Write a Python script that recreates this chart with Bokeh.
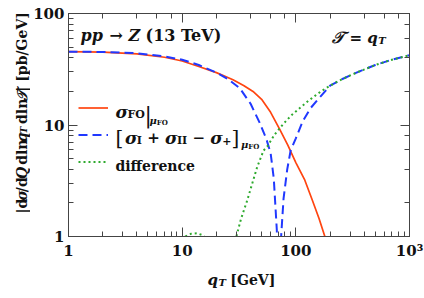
import math
from bokeh.plotting import figure
from bokeh.models import LogAxis, Label, Legend, LegendItem
from bokeh.layouts import column, row
from bokeh.embed import file_html
from bokeh.resources import INLINE

# ---- data ----
qt_fo = [1, 2, 4, 7, 10, 14, 20, 28, 35, 42, 50, 60, 72, 85, 100, 120, 140, 160, 180, 200]
sig_fo = [45.5, 45, 43.5, 40.5, 37.5, 33.5, 29.5, 25.5, 22.5, 20, 17, 13, 9.2, 6.6, 4.6, 3.2, 2.1, 1.45, 1.0, 0.75]

qt_sub = [1, 2, 4, 7, 10, 14, 20, 25, 32, 40, 48, 55, 60, 64, 68, 70, 71, 72, 74, 78, 84, 90, 100,
          115, 135, 160, 200, 260, 350, 500, 700, 1000]
sig_sub = [45.5, 45.2, 44, 41.2, 38.5, 34.5, 29.5, 26, 21.5, 15.5, 10.5, 7.5, 5.6, 3.3, 1.15, 0.45, 0.08, 0.35,
           0.95, 2.2, 4.0, 5.9, 7.6, 10.8, 14.2, 17.4, 22.5, 26, 29.8, 34.5, 38.5, 42.3]

qt_diff = [3, 5, 7, 9, 10.7, 12, 13.5, 15, 15.7, 18, 21, 24, 26, 28, 30, 33, 37.3, 41, 45.7, 52, 56, 65,
           78, 92, 110, 130, 155, 185, 215, 260, 350, 500, 700, 1000]
sig_diff = [0.2, 0.4, 0.6, 0.82, 1.0, 1.06, 1.07, 1.03, 1.0, 0.8, 0.5, 0.2, 0.05, 0.6, 1.0, 1.45, 2.1, 2.9,
            4.2, 5.9, 6.4, 8.2, 10.3, 12.3, 14.4, 16.6, 19, 21.5, 23.5, 26, 29.8, 34.5, 38.5, 42.3]

x_ticks = {1: "1", 10: "10", 100: "100", 1000: "10³"}
y_ticks = {1: "1", 10: "10", 100: "100"}

RED, BLUE, GREEN = "#ff4510", "#2038ff", "#2eaa2e"
FONT = "DejaVu Serif"

# page layout (pixels)
PW, PH = 424, 298
YW = 30           # width of the y-title strip
MH = 262          # height of the main figure (x-title strip below it)
FL, FR, FT, FB = 68, 409, 13, 236   # frame edges in page pixels

p = figure(width=PW - YW, height=MH, x_axis_type="log", y_axis_type="log",
           x_range=(1, 1000), y_range=(1, 100), output_backend="svg",
           toolbar_location=None, min_border_left=FL - YW, min_border_right=PW - FR,
           min_border_top=FT, min_border_bottom=MH - FB)
p.xgrid.visible = False
p.ygrid.visible = False
p.outline_line_color = "#444444"
p.background_fill_color = "white"

bottom = p.below[0]
left = p.left[0]

r_fo = p.line(qt_fo, sig_fo, line_color=RED, line_width=1.7)
r_sub = p.line(qt_sub, sig_sub, line_color=BLUE, line_width=2, line_dash="9 5")
r_diff = p.line(qt_diff, sig_diff, line_color=GREEN, line_width=2, line_dash="2 3")

top = LogAxis()
right = LogAxis()
p.add_layout(top, "above")
p.add_layout(right, "right")

for ax in [bottom, left, top, right]:
    ax.major_tick_in = 9
    ax.major_tick_out = 0
    ax.minor_tick_in = 5
    ax.minor_tick_out = 0
    ax.axis_line_color = "#444444"
    ax.major_tick_line_color = "#444444"
    ax.minor_tick_line_color = "#444444"
    ax.major_label_text_font = FONT
    ax.major_label_text_font_style = "bold"
    ax.major_label_text_font_size = "15px"
    ax.major_label_text_color = "#111111"

bottom.major_label_overrides = x_ticks
left.major_label_overrides = y_ticks
bottom.major_label_standoff = 5
left.major_label_standoff = 4
top.major_label_overrides = {k: "" for k in x_ticks}
right.major_label_overrides = {k: "" for k in y_ticks}
for ax in [top, right]:
    ax.major_label_text_font_size = "0px"
    ax.major_label_standoff = 0

# legend (line samples only; text placed as labels)
legend = Legend(items=[LegendItem(label=" ", renderers=[r]) for r in (r_fo, r_sub, r_diff)],
                location=(10, 61.5), glyph_width=30, glyph_height=27, label_height=27,
                label_width=0, spacing=0, padding=0, margin=0, border_line_alpha=0,
                background_fill_alpha=0, label_text_font_size="1px", label_standoff=0)
p.add_layout(legend)


def strip(w, h):
    f = figure(width=w, height=h, x_range=(0, w), y_range=(h, 0), output_backend="svg",
               toolbar_location=None, min_border=0, x_axis_location=None,
               y_axis_location=None, outline_line_color=None)
    f.grid.visible = False
    return f


ytitle = strip(YW, MH)
xtitle = strip(PW, PH - MH)

W = {' ': .348, '(': .473, ')': .473, '1': .696, '3': .696, 'T': .703, 'e': .678, 'V': .771,
     'd': .73, 'i': .421, 'f': .472, 'r': .59, 'n': .75, 'c': .643, 'l': .421, 'p': .73,
     'b': .73, 'G': .834, '/': .365, '[': .473, ']': .473, '|': .365, 'F': .768, 'O': .85,
     'I': .471, '+': .838, '−': .838, '=': .838, '→': .838, 'Z': .725, 'q': .73, 'Q': .85,
     'σ': .70, 'μ': .73, '𝒯': .8}


def width(t, s):
    return sum(W.get(c, .65) for c in t) * s


def put(items, x0, y0, fig=None, off=(0, 0), vertical=False):
    """Place text runs; x0,y0 are page pixels of the baseline start."""
    pos = y0 if vertical else x0
    for it in items:
        text, size, style, dy = it[:4]
        adv = it[4] if len(it) > 4 else None
        lead = width(text[:len(text) - len(text.lstrip())], size)
        shown = text.strip()
        if vertical:
            px, py = x0 + dy, pos - lead
        else:
            px, py = pos + lead, y0 + dy
        if fig is None:
            lab = Label(x=px - FL, y=FB - py, x_units="screen", y_units="screen")
            target = p
        else:
            lab = Label(x=px - off[0], y=py - off[1])
            target = fig
        if vertical:
            lab.angle = math.pi / 2
        lab.text = shown
        lab.text_font = FONT
        lab.text_font_size = f"{size}px"
        lab.text_font_style = style
        lab.text_color = "#111111"
        lab.text_align = "left"
        lab.text_baseline = "alphabetic"
        target.add_layout(lab)
        step = adv if adv is not None else width(text, size)
        pos = pos - step if vertical else pos + step


BI, B, N = "bold italic", "bold", "normal"

put([("pp", 16, BI, 0), (" → ", 16, B, 0), ("Z", 16, BI, 0), (" (13 TeV)", 16, B, 0)], 80, 35)
put([("𝒯", 16, BI, 0), (" = ", 15, B, 0), ("q", 15, BI, 0), ("T", 10, BI, 3)], 331, 37)

# legend texts
put([("σ", 17, BI, 0), ("FO", 11, B, 3, 17), ("|", 22, N, 4, 5), ("μ", 10, BI, 9), ("FO", 7, B, 10.5)], 115, 111)
put([("[", 20, N, 0), ("σ", 17, BI, 0), ("I", 11, B, 3), (" + ", 15, B, 0), ("σ", 17, BI, 0),
     ("II", 11, B, 3), (" − ", 15, B, 0), ("σ", 17, BI, 0), ("+", 11, B, 3), ("]", 20, N, 0),
     ("μ", 10, BI, 7), ("FO", 7, B, 8.5)], 115, 137)
put([("difference", 14, B, 0)], 115, 165)

# axis titles (in their own strips)
put([("q", 15, BI, 0), ("T", 10, BI, 3), (" [GeV]", 14, B, 0)], 207, 279,
    fig=xtitle, off=(0, MH))
put([("|d", 14, B, 0), ("σ", 14, BI, 0), ("/d", 14, B, 0), ("Q", 14, BI, 0), (" dln", 14, B, 0),
     ("q", 14, BI, 0), ("T", 9, BI, 2.5), (" dln", 14, B, 0), ("𝒯", 14, BI, 0),
     ("| [pb/GeV]", 14, B, 0)], 21, 235, fig=ytitle, off=(0, 0), vertical=True)

layout = column(row(ytitle, p, spacing=0), xtitle, spacing=0)
open("out.html", "w").write(file_html(layout, INLINE))
